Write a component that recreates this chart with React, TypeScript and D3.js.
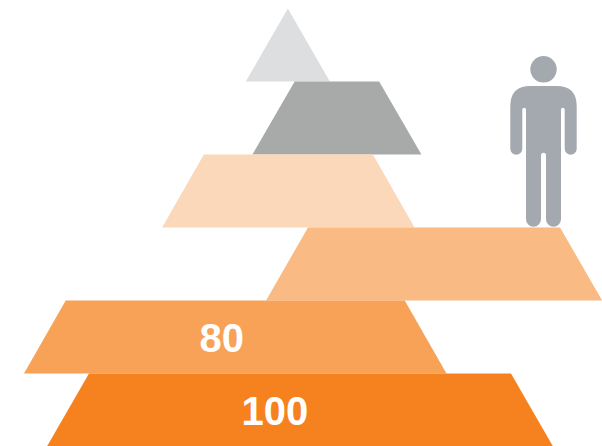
import React from "react";
import * as d3 from "d3";

const WIDTH = 602;
const HEIGHT = 446;

// Tiers, from the top of the stack to the bottom
const tierIds = ["t1", "t2", "t3", "t4", "t5", "t6"];
const tierTopWidths = [0, 16.7, 33.4, 49.8, 67, 83.4];
const tierBottomWidths = [16.6, 33.4, 49.9, 66.4, 83.5, 100];
const tierCenters = [56.9, 66.6, 57, 85.8, 46.5, 59.3];
const tierLabels = ["", "", "", "", "80", "100"];
const tierColors = ["#DCDEE0", "#A7AAA8", "#FBD8BA", "#FABA84", "#F8A258", "#F6821F"];
const personColor = "#A4A8AF";

const x = d3.scaleLinear().domain([0, 119]).range([0, 602]);
const w = d3.scaleLinear().domain([0, 100]).range([0, 506]);
const y = d3.scaleBand().domain(tierIds).range([8.4, 446.4]).paddingInner(0);

const line = d3.line<[number, number]>();

const personBody =
  "M-13,30 H13 Q33.2,30 33.2,50 V92.7 A6,6 0 0 1 21.2,92.7 V53.5 A1.85,1.85 0 0 0 17.5,53.5 V163.2 A7.5,7.5 0 0 1 2.5,163.2 V99.2 A2.5,2.5 0 0 0 -2.5,99.2 V163.2 A7.5,7.5 0 0 1 -17.5,163.2 V53.5 A1.85,1.85 0 0 0 -21.2,53.5 V92.7 A6,6 0 0 1 -33.2,92.7 V50 Q-33.2,30 -13,30 Z";

export default function App() {
  const bw = y.bandwidth();
  return (
    <svg
      width={WIDTH}
      height={HEIGHT}
      viewBox={`0 0 ${WIDTH} ${HEIGHT}`}
      style={{ position: "absolute", left: 0, top: 0, background: "#fff" }}
    >
      {tierIds.map((id, i) => {
        const cx = x(tierCenters[i]);
        const top = y(id)!;
        const bot = top + bw;
        const tw = w(tierTopWidths[i]) / 2;
        const bhw = w(tierBottomWidths[i]) / 2;
        const pts: [number, number][] = [
          [cx - tw, top],
          [cx + tw, top],
          [cx + bhw, bot],
          [cx - bhw, bot],
        ];
        return <path key={id} d={line(pts) + "Z"} fill={tierColors[i]} />;
      })}
      {tierIds.map((id, i) =>
        tierLabels[i] ? (
          <text
            key={id}
            x={x(tierCenters[i]) + (i === 4 ? -13.5 : -25)}
            y={y(id)! + 51.7}
            textAnchor="middle"
            fill="#fff"
            fontFamily="Liberation Sans"
            fontWeight="bold"
            fontSize={40}
          >
            {tierLabels[i]}
          </text>
        ) : null
      )}
      <g transform="translate(543.5,56)" fill={personColor}>
        <circle cx={0} cy={13.3} r={13.2} />
        <path d={personBody} />
      </g>
    </svg>
  );
}
